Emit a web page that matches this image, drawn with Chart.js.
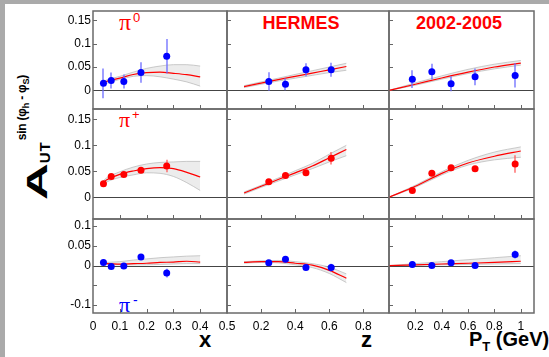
<!DOCTYPE html>
<html>
<head>
<meta charset="utf-8">
<script src="https://cdn.jsdelivr.net/npm/chart.js@4.4.1/dist/chart.umd.min.js"></script>
<style>
  html, body { margin: 0; padding: 0; background: #fff; }
  #wrap { position: relative; width: 549px; height: 357px; overflow: hidden; background: #fff;
          font-family: "Liberation Sans", Arial, sans-serif; }
  #wrap canvas { position: absolute; left: 0; top: 0; }
  .edgeTop { position: absolute; left: 0; top: 0; width: 549px; height: 4px; background: #aaa; }
  .edgeLeft { position: absolute; left: 0; top: 0; width: 5px; height: 357px; background: #aaa; }
  .lbl { position: absolute; white-space: nowrap; }
</style>
</head>
<body>
<div id="wrap">
  <div class="edgeTop"></div>
  <div class="edgeLeft"></div>

  <!-- panel labels -->
  <span class="lbl" style="left:119px; top:10px; font:24px/24px 'Liberation Serif'; color:#f00;">π</span>
  <span class="lbl" style="left:133px; top:11px; font:13px/13px 'Liberation Sans'; color:#f00;">0</span>
  <span class="lbl" style="left:119px; top:109px; font:22px/22px 'Liberation Serif'; color:#f00;">π</span>
  <span class="lbl" style="left:132px; top:108px; font:13px/13px 'Liberation Sans'; color:#f00;">+</span>
  <span class="lbl" style="left:119px; top:294px; font:22px/22px 'Liberation Serif'; color:#00f;">π</span>
  <span class="lbl" style="left:133px; top:293px; font:14px/14px 'Liberation Sans'; color:#00f;">-</span>
  <span class="lbl" style="left:301px; top:14px; transform:translateX(-50%); font:bold 18px/18px 'Liberation Sans'; color:#f00;">HERMES</span>
  <span class="lbl" style="left:459px; top:14px; transform:translateX(-50%); font:bold 18px/18px 'Liberation Sans'; color:#f00;">2002-2005</span>

  <!-- axis titles -->
  <span class="lbl" style="left:199px; top:329px; font:bold 22px/22px 'Liberation Sans'; color:#000;">x</span>
  <span class="lbl" style="left:361px; top:329px; font:bold 22px/22px 'Liberation Sans'; color:#000;">z</span>
  <span class="lbl" style="left:469px; top:329px; font:bold 20px/21px 'Liberation Sans'; color:#000;">P<span style="font-size:13px; position:relative; top:5px;">T</span> (GeV)</span>

  <div class="lbl" style="left:17px; top:200px; transform-origin:0 0; transform:rotate(-90deg); font:bold 30px/40px 'Liberation Sans'; color:#000;"><span style="display:inline-block; transform:scaleX(1.7); transform-origin:0 0; margin-right:15px;">A</span><span style="font-size:15px; position:relative; top:3px; letter-spacing:1px;">UT</span><span style="font-size:12px; position:relative; top:-21px; margin-left:1px; letter-spacing:-0.2px;">sin (φ<span style="font-size:9px; position:relative; top:3px;">h</span> - φ<span style="font-size:9px; position:relative; top:3px;">S</span>)</span></div>
</div>

<script>
const RED = '#ff0000';
const BLUE = '#0000ff';

// mean kinematics of the bins
const xBins = [0.039, 0.068, 0.115, 0.179, 0.275];
const zBins = [0.245, 0.343, 0.463, 0.611];
const ptBins = [0.177, 0.325, 0.471, 0.653, 0.957];

// measured asymmetries + errors
const pi0X = [0.015, 0.021, 0.019, 0.038, 0.073];
const pi0XErr = [0.032, 0.017, 0.015, 0.022, 0.037];
const pi0Z = [0.019, 0.013, 0.044, 0.044];
const pi0ZErr = [0.020, 0.013, 0.014, 0.015];
const pi0Pt = [0.024, 0.040, 0.014, 0.029, 0.032];
const pi0PtErr = [0.019, 0.017, 0.016, 0.018, 0.026];

const piPlusX = [0.026, 0.040, 0.044, 0.052, 0.060];
const piPlusXErr = [0.004, 0.004, 0.004, 0.005, 0.012];
const piPlusZ = [0.030, 0.042, 0.047, 0.075];
const piPlusZErr = [0.004, 0.004, 0.004, 0.012];
const piPlusPt = [0.013, 0.046, 0.057, 0.055, 0.064];
const piPlusPtErr = [0.004, 0.005, 0.005, 0.005, 0.017];

const piMinusX = [0.008, -0.002, -0.001, 0.022, -0.019];
const piMinusXErr = [0.006, 0.006, 0.006, 0.007, 0.011];
const piMinusZ = [0.007, 0.016, -0.005, -0.005];
const piMinusZErr = [0.005, 0.006, 0.006, 0.010];
const piMinusPt = [0.003, 0.000, 0.007, 0.000, 0.028];
const piMinusPtErr = [0.005, 0.005, 0.006, 0.006, 0.010];

// model curve + band, read at these abscissae
const curveX = [0.037, 0.05, 0.1, 0.15, 0.2, 0.25, 0.3, 0.35, 0.4];
const curveZ = [0.1, 0.2, 0.3, 0.4, 0.5, 0.6, 0.7];
const curvePt = [0, 0.2, 0.4, 0.6, 0.8, 1.0];

const pi0XModel = [0.016, 0.019, 0.026, 0.034, 0.038, 0.039, 0.0365, 0.0335, 0.029];
const pi0XLow = [0.013, 0.015, 0.0235, 0.030, 0.0315, 0.029, 0.024, 0.018, 0.009];
const pi0XHigh = [0.019, 0.022, 0.030, 0.039, 0.047, 0.052, 0.055, 0.055, 0.052];
const pi0ZModel = [0.008, 0.0155, 0.023, 0.030, 0.037, 0.044, 0.051];
const pi0ZLow = [0.006, 0.013, 0.020, 0.026, 0.032, 0.038, 0.043];
const pi0ZHigh = [0.010, 0.018, 0.026, 0.034, 0.042, 0.050, 0.058];
const pi0PtModel = [0, 0.013, 0.0265, 0.039, 0.050, 0.0585];
const pi0PtLow = [0, 0.011, 0.024, 0.036, 0.046, 0.054];
const pi0PtHigh = [0, 0.016, 0.031, 0.045, 0.056, 0.064];

const piPlusXModel = [0.028, 0.033, 0.044, 0.0505, 0.055, 0.057, 0.055, 0.048, 0.039];
const piPlusXLow = [0.024, 0.029, 0.038, 0.043, 0.047, 0.046, 0.040, 0.028, 0.013];
const piPlusXHigh = [0.031, 0.037, 0.049, 0.058, 0.064, 0.067, 0.068, 0.069, 0.069];
const piPlusZModel = [0.008, 0.021, 0.034, 0.047, 0.060, 0.076, 0.092];
const piPlusZLow = [0.006, 0.019, 0.031, 0.043, 0.055, 0.068, 0.080];
const piPlusZHigh = [0.010, 0.023, 0.037, 0.051, 0.065, 0.083, 0.100];
const piPlusPtModel = [0, 0.021, 0.046, 0.066, 0.079, 0.089];
const piPlusPtLow = [0, 0.019, 0.043, 0.062, 0.072, 0.077];
const piPlusPtHigh = [0, 0.023, 0.049, 0.071, 0.087, 0.097];

const piMinusXModel = [0.005, 0.005, 0.004, 0.005, 0.006, 0.008, 0.009, 0.011, 0.009];
const piMinusXLow = [0.004, 0.003, 0.002, 0.002, 0.002, 0.003, 0.004, 0.005, 0.005];
const piMinusXHigh = [0.007, 0.008, 0.010, 0.014, 0.017, 0.020, 0.022, 0.024, 0.025];
const piMinusZModel = [0.008, 0.010, 0.010, 0.006, 0.001, -0.012, -0.032];
const piMinusZLow = [0.006, 0.008, 0.007, 0.002, -0.005, -0.020, -0.043];
const piMinusZHigh = [0.010, 0.012, 0.013, 0.010, 0.005, -0.004, -0.021];
const piMinusPtModel = [0, 0.002, 0.004, 0.006, 0.008, 0.011];
const piMinusPtLow = [0, 0.001, 0.002, 0.003, 0.004, 0.005];
const piMinusPtHigh = [0, 0.005, 0.010, 0.015, 0.020, 0.025];

// ticks
const xTickLabels = [0, 0.1, 0.2, 0.3, 0.4, 0.5];
const zTickLabels = [0.2, 0.4, 0.6, 0.8];
const ptTickLabels = [0.2, 0.4, 0.6, 0.8, 1];
const xTickMarks = [0.1, 0.2, 0.3, 0.4];
const zTickMarks = [0.2, 0.4, 0.6, 0.8];
const ptTickMarks = [0.2, 0.4, 0.6, 0.8, 1];
const yTickLabelsUpper = [0, 0.05, 0.1, 0.15];
const yTickLabelsLower = [-0.1, 0, 0.05, 0.1];
const yTickMarksUpper = [0.05, 0.1, 0.15];
const yTickMarksLower = [-0.1, -0.05, 0.05, 0.1];

const xRange = [0, 0.5];
const zRange = [0, 0.95];
const ptRange = [0, 1.1];
const yRanges = [[-0.04, 0.17], [-0.042, 0.17], [-0.12, 0.118]];

// panel geometry (pixels)
const W = 549, H = 357;
const colEdges = [93, 227, 389, 534];
const rowEdges = [11, 109, 219, 313];
const Y_AXIS_W = 40, X_AXIS_H = 30;

const columns = [
  { bins: xBins, range: xRange, at: curveX, labels: xTickLabels, marks: xTickMarks },
  { bins: zBins, range: zRange, at: curveZ, labels: zTickLabels, marks: zTickMarks },
  { bins: ptBins, range: ptRange, at: curvePt, labels: ptTickLabels, marks: ptTickMarks },
];

const rows = [
  { color: BLUE, bar: '#6b6bff', sets: [
    [pi0X, pi0XErr, pi0XModel, pi0XLow, pi0XHigh],
    [pi0Z, pi0ZErr, pi0ZModel, pi0ZLow, pi0ZHigh],
    [pi0Pt, pi0PtErr, pi0PtModel, pi0PtLow, pi0PtHigh] ] },
  { color: RED, bar: '#ff5a5a', sets: [
    [piPlusX, piPlusXErr, piPlusXModel, piPlusXLow, piPlusXHigh],
    [piPlusZ, piPlusZErr, piPlusZModel, piPlusZLow, piPlusZHigh],
    [piPlusPt, piPlusPtErr, piPlusPtModel, piPlusPtLow, piPlusPtHigh] ] },
  { color: BLUE, bar: '#6b6bff', sets: [
    [piMinusX, piMinusXErr, piMinusXModel, piMinusXLow, piMinusXHigh],
    [piMinusZ, piMinusZErr, piMinusZModel, piMinusZLow, piMinusZHigh],
    [piMinusPt, piMinusPtErr, piMinusPtModel, piMinusPtLow, piMinusPtHigh] ] },
];

const pairs = (xs, ys) => xs.map((x, i) => ({ x: x, y: ys[i] }));

function panelPlugin(col, vals, errs, barColor, yMarks) {
  return {
    id: 'panelDecor',
    beforeDatasetsDraw(chart) {
      const { ctx, chartArea: a, scales } = chart;
      const y0 = Math.round(scales.y.getPixelForValue(0)) + 0.5;
      ctx.save();
      ctx.strokeStyle = '#444';
      ctx.lineWidth = 1;
      ctx.beginPath();
      ctx.moveTo(a.left, y0);
      ctx.lineTo(a.right, y0);
      ctx.stroke();
      ctx.restore();
    },
    beforeDatasetDraw(chart, args) {
      if (args.index !== 0) return;
      const { ctx, scales } = chart;
      ctx.save();
      ctx.strokeStyle = barColor;
      ctx.lineWidth = 1.3;
      col.bins.forEach((b, i) => {
        const px = Math.round(scales.x.getPixelForValue(b));
        ctx.beginPath();
        ctx.moveTo(px, scales.y.getPixelForValue(vals[i] - errs[i]));
        ctx.lineTo(px, scales.y.getPixelForValue(vals[i] + errs[i]));
        ctx.stroke();
      });
      ctx.restore();
    },
    afterDatasetsDraw(chart) {
      const { ctx, chartArea: a, scales } = chart;
      ctx.save();
      ctx.strokeStyle = '#666';
      ctx.lineWidth = 1;
      col.marks.forEach(v => {
        const px = Math.round(scales.x.getPixelForValue(v)) + 0.5;
        ctx.beginPath();
        ctx.moveTo(px, a.bottom);
        ctx.lineTo(px, a.bottom - 4);
        ctx.stroke();
      });
      yMarks.forEach(v => {
        const py = Math.round(scales.y.getPixelForValue(v)) + 0.5;
        ctx.beginPath();
        ctx.moveTo(a.left, py);
        ctx.lineTo(a.left + 4, py);
        ctx.stroke();
      });
      ctx.strokeStyle = '#6a6a6a';
      ctx.lineWidth = 1.5;
      ctx.strokeRect(a.left, a.top, a.right - a.left, a.bottom - a.top);
      ctx.restore();
    }
  };
}

const tickFont = { family: "'Liberation Sans', Arial, sans-serif", size: 12 };

rows.forEach((row, r) => {
  columns.forEach((col, c) => {
    const [vals, errs, model, low, high] = row.sets[c];
    const canvas = document.createElement('canvas');
    canvas.width = W;
    canvas.height = H;
    document.getElementById('wrap').appendChild(canvas);

    const showY = c === 0;
    const showX = r === 2;
    const yLabels = r === 2 ? yTickLabelsLower : yTickLabelsUpper;
    const yMarks = r === 2 ? yTickMarksLower : yTickMarksUpper;

    new Chart(canvas.getContext('2d'), {
      type: 'line',
      data: {
        datasets: [
          { data: pairs(col.bins, vals), showLine: false, pointRadius: 3.5, pointHoverRadius: 3.5,
            pointBackgroundColor: row.color, pointBorderWidth: 0, order: 0 },
          { data: pairs(col.at, model), borderColor: RED, borderWidth: 1.2, pointRadius: 0,
            cubicInterpolationMode: 'monotone', fill: false, order: 1 },
          { data: pairs(col.at, low), borderColor: '#b4b4b4', borderWidth: 0.7, pointRadius: 0,
            cubicInterpolationMode: 'monotone', fill: false, order: 2 },
          { data: pairs(col.at, high), borderColor: '#b4b4b4', borderWidth: 0.7, pointRadius: 0,
            cubicInterpolationMode: 'monotone', fill: '-1', backgroundColor: '#ececec', order: 3 },
        ]
      },
      options: {
        responsive: false,
        animation: false,
        devicePixelRatio: 1,
        events: [],
        layout: {
          padding: {
            left: colEdges[c] - (showY ? Y_AXIS_W : 0),
            right: W - colEdges[c + 1],
            top: rowEdges[r],
            bottom: H - rowEdges[r + 1] - (showX ? X_AXIS_H : 0)
          }
        },
        plugins: { legend: { display: false }, tooltip: { enabled: false } },
        scales: {
          x: {
            type: 'linear', min: col.range[0], max: col.range[1], display: showX,
            grid: { display: false, drawTicks: false }, border: { display: false },
            ticks: { font: tickFont, color: '#000', padding: 6, autoSkip: false, maxRotation: 0,
                     callback: v => String(v) },
            afterBuildTicks: s => { s.ticks = col.labels.map(v => ({ value: v })); },
            afterFit: s => { if (showX) s.height = X_AXIS_H; }
          },
          y: {
            type: 'linear', min: yRanges[r][0], max: yRanges[r][1], display: showY,
            grid: { display: false, drawTicks: false }, border: { display: false },
            ticks: { font: tickFont, color: '#000', padding: 2, autoSkip: false,
                     callback: v => String(v) },
            afterBuildTicks: s => { s.ticks = yLabels.map(v => ({ value: v })); },
            afterFit: s => { if (showY) s.width = Y_AXIS_W; }
          }
        }
      },
      plugins: [panelPlugin(col, vals, errs, row.bar, yMarks)]
    });
  });
});
</script>
</body>
</html>
